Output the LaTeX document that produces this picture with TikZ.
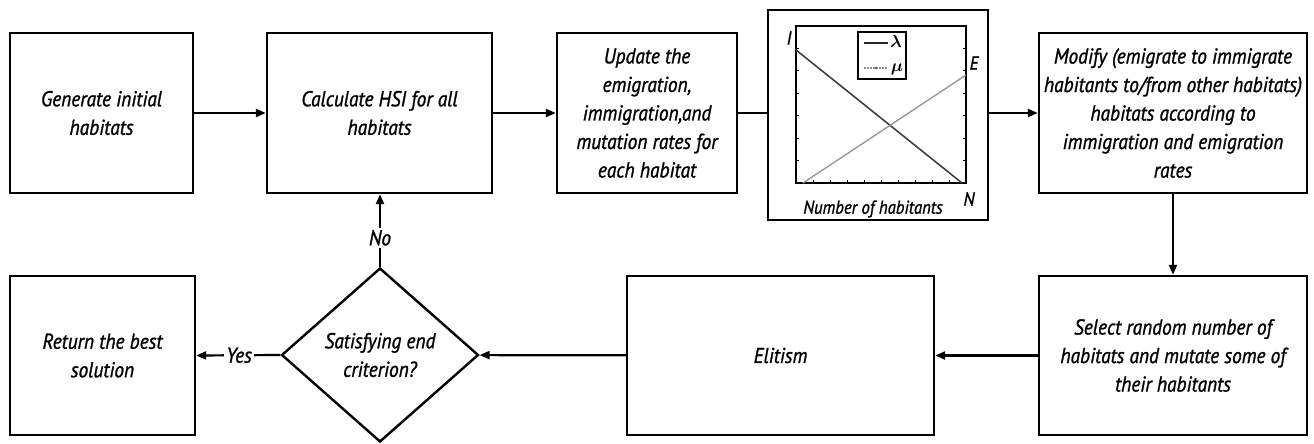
\documentclass[tikz,border=0pt]{standalone}
\usepackage{amsmath}
\usepackage{fontspec}
\setmainfont{PT Sans}[FakeStretch=0.9, FakeBold=1.2]
\usetikzlibrary{arrows.meta,shapes.geometric}

\tikzset{
  txt/.style={font=\itshape\fontsize{21.5}{28.5}\selectfont, align=center},
  small/.style={font=\itshape\fontsize{19}{20}\selectfont, inner sep=0pt},
  stepbox/.style={draw, line width=2.4pt, rectangle, txt, inner sep=2pt},
  decision/.style={draw, line width=2.4pt, diamond, txt, inner sep=0pt, aspect=1.1},
  link/.style={line width=2.2pt},
  arr/.style={link, -{Triangle[length=10pt,width=8pt]}},
  tag/.style={txt, fill=white, inner sep=2pt},
  axis/.style={line width=2pt},
  tick/.style={line width=1pt},
}

\begin{document}
\begin{tikzpicture}[x=1pt,y=-1pt]
\useasboundingbox (0,0) rectangle (1314,444);

% ---- top row ----
\node[stepbox, minimum width=183, minimum height=160] (gen) at (101.5,113)
  {Generate initial\\habitats};
\node[stepbox, minimum width=225, minimum height=160] (calc) at (379.5,113)
  {Calculate HSI for all\\habitats};
\node[stepbox, minimum width=180, minimum height=160] (upd) at (647,113)
  {Update the\\emigration,\\immigration,and\\mutation rates for\\each habitat};
\node[draw, line width=2.2pt, minimum width=220, minimum height=210, inner sep=0pt] (plot) at (878,115) {};
\node[stepbox, minimum width=268, minimum height=160] (mod) at (1173,113)
  {Modify (emigrate to immigrate\\habitants to/from other habitats)\\habitats according to\\immigration and emigration\\rates};

% ---- bottom row ----
\node[stepbox, minimum width=185, minimum height=159] (ret) at (102.5,355.5)
  {Return the best\\solution};
\node[decision, minimum width=197, minimum height=174] (dec) at (380,355)
  {Satisfying end\\criterion?};
\node[stepbox, minimum width=307, minimum height=159] (eli) at (780.5,355.5)
  {Elitism};
\node[stepbox, minimum width=268, minimum height=159] (sel) at (1173,355.5)
  {Select random number of\\habitats and mutate some of\\their habitants};

% ---- migration model plot ----
\draw[axis] (796,26) rectangle (966,183);
\foreach \k in {1,...,6} {
  \draw[tick] (796,{26+157*\k/7}) -- ++(3,0);
  \draw[tick] (966,{26+157*\k/7}) -- ++(-3,0);
}
\foreach \k in {1,...,9} {
  \draw[tick] ({796+17*\k},183) -- ++(0,-3);
}
\draw[line width=1.6pt, black!75] (796,50) -- (962,183);
\draw[line width=1.4pt, black!40] (803,183) -- (966,75);
% legend
\draw[axis] (858,32) rectangle (906,79);
\draw[line width=1.8pt, black!85] (864,43) -- (888,43);
\node[small] (lamlab) at (896,42) {$\boldsymbol{\lambda}$};
\draw[line width=1.2pt, black!45, dash pattern=on 2pt off 1pt] (864,68) -- (888,68);
\fill[black!60] (876,68) circle (1.5);
\node[small] (mulab) at (897,69) {$\boldsymbol{\mu}$};
% axis labels
\node[small] (ilab) at (789,38) {I};
\node[small] (elab) at (974,63) {E};
\node[small] (nlab) at (969,199) {N};
\node[font=\itshape\fontsize{18.5}{20}\selectfont, inner sep=0pt] (xlab) at (873,209) {Number of habitants};

% ---- connectors ----
\draw[arr] (gen) -- (calc);
\draw[arr] (calc) -- (upd);
\draw[link] (upd.east) -- (upd.east -| plot.west);
\draw[arr] (mod.west -| plot.east) -- (mod.west);
\draw[arr] (mod) -- (sel);
\draw[arr] (sel) -- (eli);
\draw[arr] (eli) -- (dec);
\draw[arr] (dec.west) -- node[tag, pos=0.49] (yes) {Yes} (ret.east);
\draw[arr] (dec.north) -- node[tag, pos=0.4] (no) {No} (dec.north |- calc.south);
\end{tikzpicture}
\end{document}
